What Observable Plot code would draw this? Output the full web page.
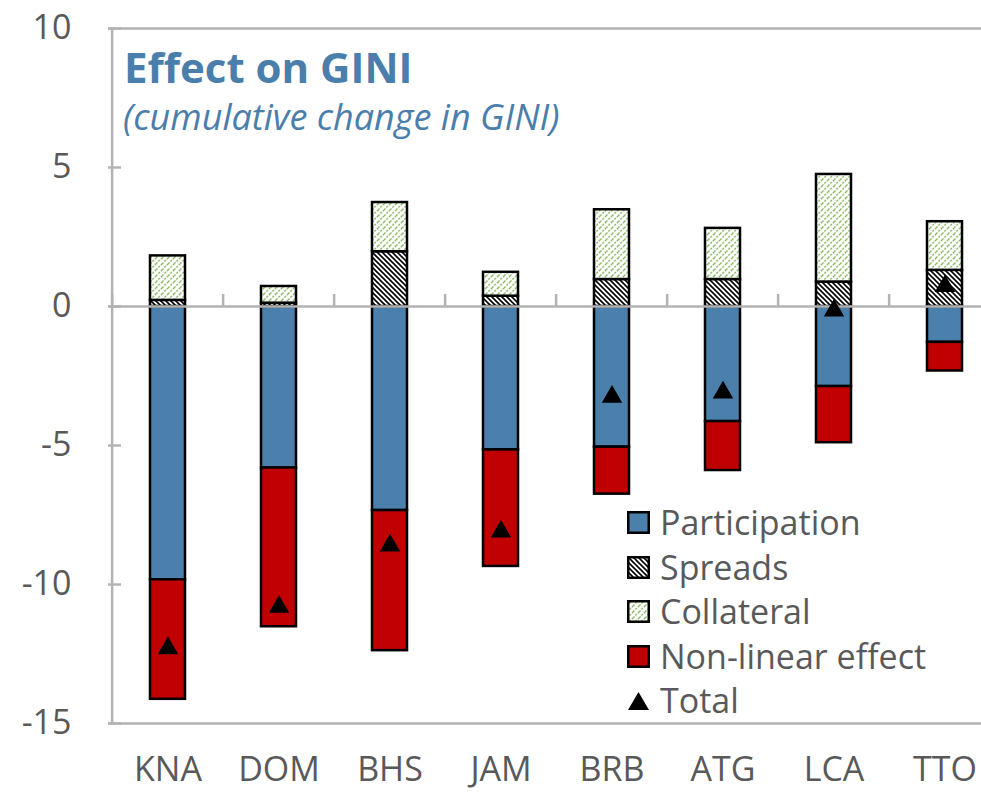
<!DOCTYPE html>
<html>
<head>
<meta charset="utf-8">
<script src="https://cdn.jsdelivr.net/npm/d3@7"></script>
<script src="https://cdn.jsdelivr.net/npm/@observablehq/plot@0.6"></script>
<style>
  html, body { margin: 0; padding: 0; background: #fff; overflow: hidden; }
  #wrap { position: relative; width: 981px; height: 792px; font-family: "Open Sans", sans-serif; }
  #title { position: absolute; left: 124px; top: 46px; font-size: 42px; font-weight: 700; color: #4A7EAB; line-height: 1; white-space: nowrap; }
  #subtitle { position: absolute; left: 123px; top: 99px; font-size: 36px; font-style: italic; color: #4A7EAB; line-height: 1; white-space: nowrap; }
  #legend { position: absolute; left: 627px; top: 500px; }
  .row { position: absolute; left: 0; height: 44px; display: flex; align-items: center; white-space: nowrap; font-size: 34px; color: #595959; }
  .row svg { margin-right: 10px; }
</style>
</head>
<body>
<div id="wrap">
  <div id="chart"></div>
  <div id="title">Effect on GINI</div>
  <div id="subtitle">(cumulative change in GINI)</div>
  <div id="legend"></div>
</div>
<script>
const categories = ["KNA", "DOM", "BHS", "JAM", "BRB", "ATG", "LCA", "TTO"];
const participation = [-9.83, -5.81, -7.34, -5.16, -5.06, -4.14, -2.88, -1.29];
const spreads = [0.22, 0.12, 1.97, 0.37, 0.97, 0.97, 0.88, 1.30];
const collateral = [1.60, 0.60, 1.77, 0.86, 2.51, 1.84, 3.87, 1.75];
const nonlinear = [-4.30, -5.71, -5.04, -4.19, -1.69, -1.76, -2.02, -1.03];
const total = [-12.3, -10.8, -8.6, -8.1, -3.25, -3.1, -0.15, 0.73];
const seriesNames = ["Participation", "Spreads", "Collateral", "Non-linear effect"];
const yTicks = [-15, -10, -5, 0, 5, 10];

const seriesValues = [participation, spreads, collateral, nonlinear];
const seriesFills = ["#4A80AB", "url(#pat-spr)", "url(#pat-coll)", "#C00000"];

const long = [];
seriesNames.forEach((s, si) => {
  categories.forEach((c, ci) => long.push({country: c, series: s, value: seriesValues[si][ci]}));
});
const totals = categories.map((c, i) => ({country: c, total: total[i]}));

const W = 981, H = 792, mL = 108, mT = 28, mB = 69;
const xRange = [109, 1003];
const step = (xRange[1] - xRange[0]) / categories.length;
const pxPerUnit = (H - mT - mB) / (yTicks[yTicks.length - 1] - yTicks[0]);
const grey = "#b3b3b3";
const textCol = "#595959";

const plot = Plot.plot({
  width: W, height: H,
  marginLeft: mL, marginRight: 0, marginTop: mT, marginBottom: mB,
  style: {fontFamily: "Open Sans, sans-serif", background: "transparent", overflow: "hidden"},
  x: {domain: categories, range: xRange, paddingInner: 0.685, paddingOuter: 0.3425, label: null},
  y: {domain: [-15, 10], label: null},
  color: {domain: seriesNames, range: seriesFills},
  marks: [
    Plot.ruleY([10, -15], {stroke: grey, strokeWidth: 2.5}),
    Plot.ruleX([categories[0]], {x: d => d, y1: -15, y2: 10, dx: -step / 2, stroke: grey, strokeWidth: 2.5}),
    Plot.barY(long, {x: "country", y: "value", fill: "series", stroke: "black", strokeWidth: 2.5}),
    Plot.ruleY([0], {stroke: grey, strokeWidth: 2.5}),
    Plot.ruleX(categories, {x: d => d, y1: 0, y2: 12 / pxPerUnit, dx: -step / 2, stroke: grey, strokeWidth: 2.5}),
    Plot.tickY(yTicks, {y: d => d, stroke: grey, strokeWidth: 2.5, insetRight: W - mL - 13}),
    Plot.axisY({ticks: yTicks, tickSize: 0, tickPadding: 37, tickFormat: d => String(d), fontSize: 34, color: textCol}),
    Plot.axisX({tickSize: 0, tickPadding: 33, fontSize: 34, color: textCol}),
    Plot.dot(totals, {x: "country", y: "total", symbol: "triangle", r: 7.6, fill: "black", stroke: "none"})
  ]
});

const defs = d3.select(plot).insert("defs", ":first-child");
const pc = defs.append("pattern").attr("id", "pat-coll").attr("patternUnits", "userSpaceOnUse").attr("width", 6).attr("height", 6);
pc.append("rect").attr("width", 6).attr("height", 6).attr("fill", "white");
pc.append("path").attr("d", "M-1,1 L1,-1 M0,6 L6,0 M5,7 L7,5").attr("stroke", "#8DBB68").attr("stroke-width", 1.4).attr("stroke-dasharray", "2.2 1.2");
const ps = defs.append("pattern").attr("id", "pat-spr").attr("patternUnits", "userSpaceOnUse").attr("width", 5).attr("height", 5);
ps.append("rect").attr("width", 5).attr("height", 5).attr("fill", "white");
ps.append("path").attr("d", "M0,0 L5,5 M-1,4 L1,6 M4,-1 L6,1").attr("stroke", "black").attr("stroke-width", 1.6);

document.getElementById("chart").appendChild(plot);

// legend
const legend = d3.select("#legend");
const rowTops = [0, 45, 89, 134, 178];
const items = seriesNames.map((s, i) => ({label: s, fill: seriesFills[i], kind: "box"}));
items.push({label: "Total", kind: "tri"});
items.forEach((it, i) => {
  const row = legend.append("div").attr("class", "row").style("top", (rowTops[i]) + "px");
  const sv = row.append("svg").attr("width", 23).attr("height", 23);
  if (it.kind === "box") {
    sv.append("rect").attr("x", 1.25).attr("y", 1.25).attr("width", 20.5).attr("height", 20.5)
      .attr("fill", it.fill).attr("stroke", "black").attr("stroke-width", 2.5);
  } else {
    sv.append("path").attr("d", "M11.5,3 L22,21 L1,21 Z").attr("fill", "black");
  }
  row.append("span").text(it.label);
});
</script>
</body>
</html>
